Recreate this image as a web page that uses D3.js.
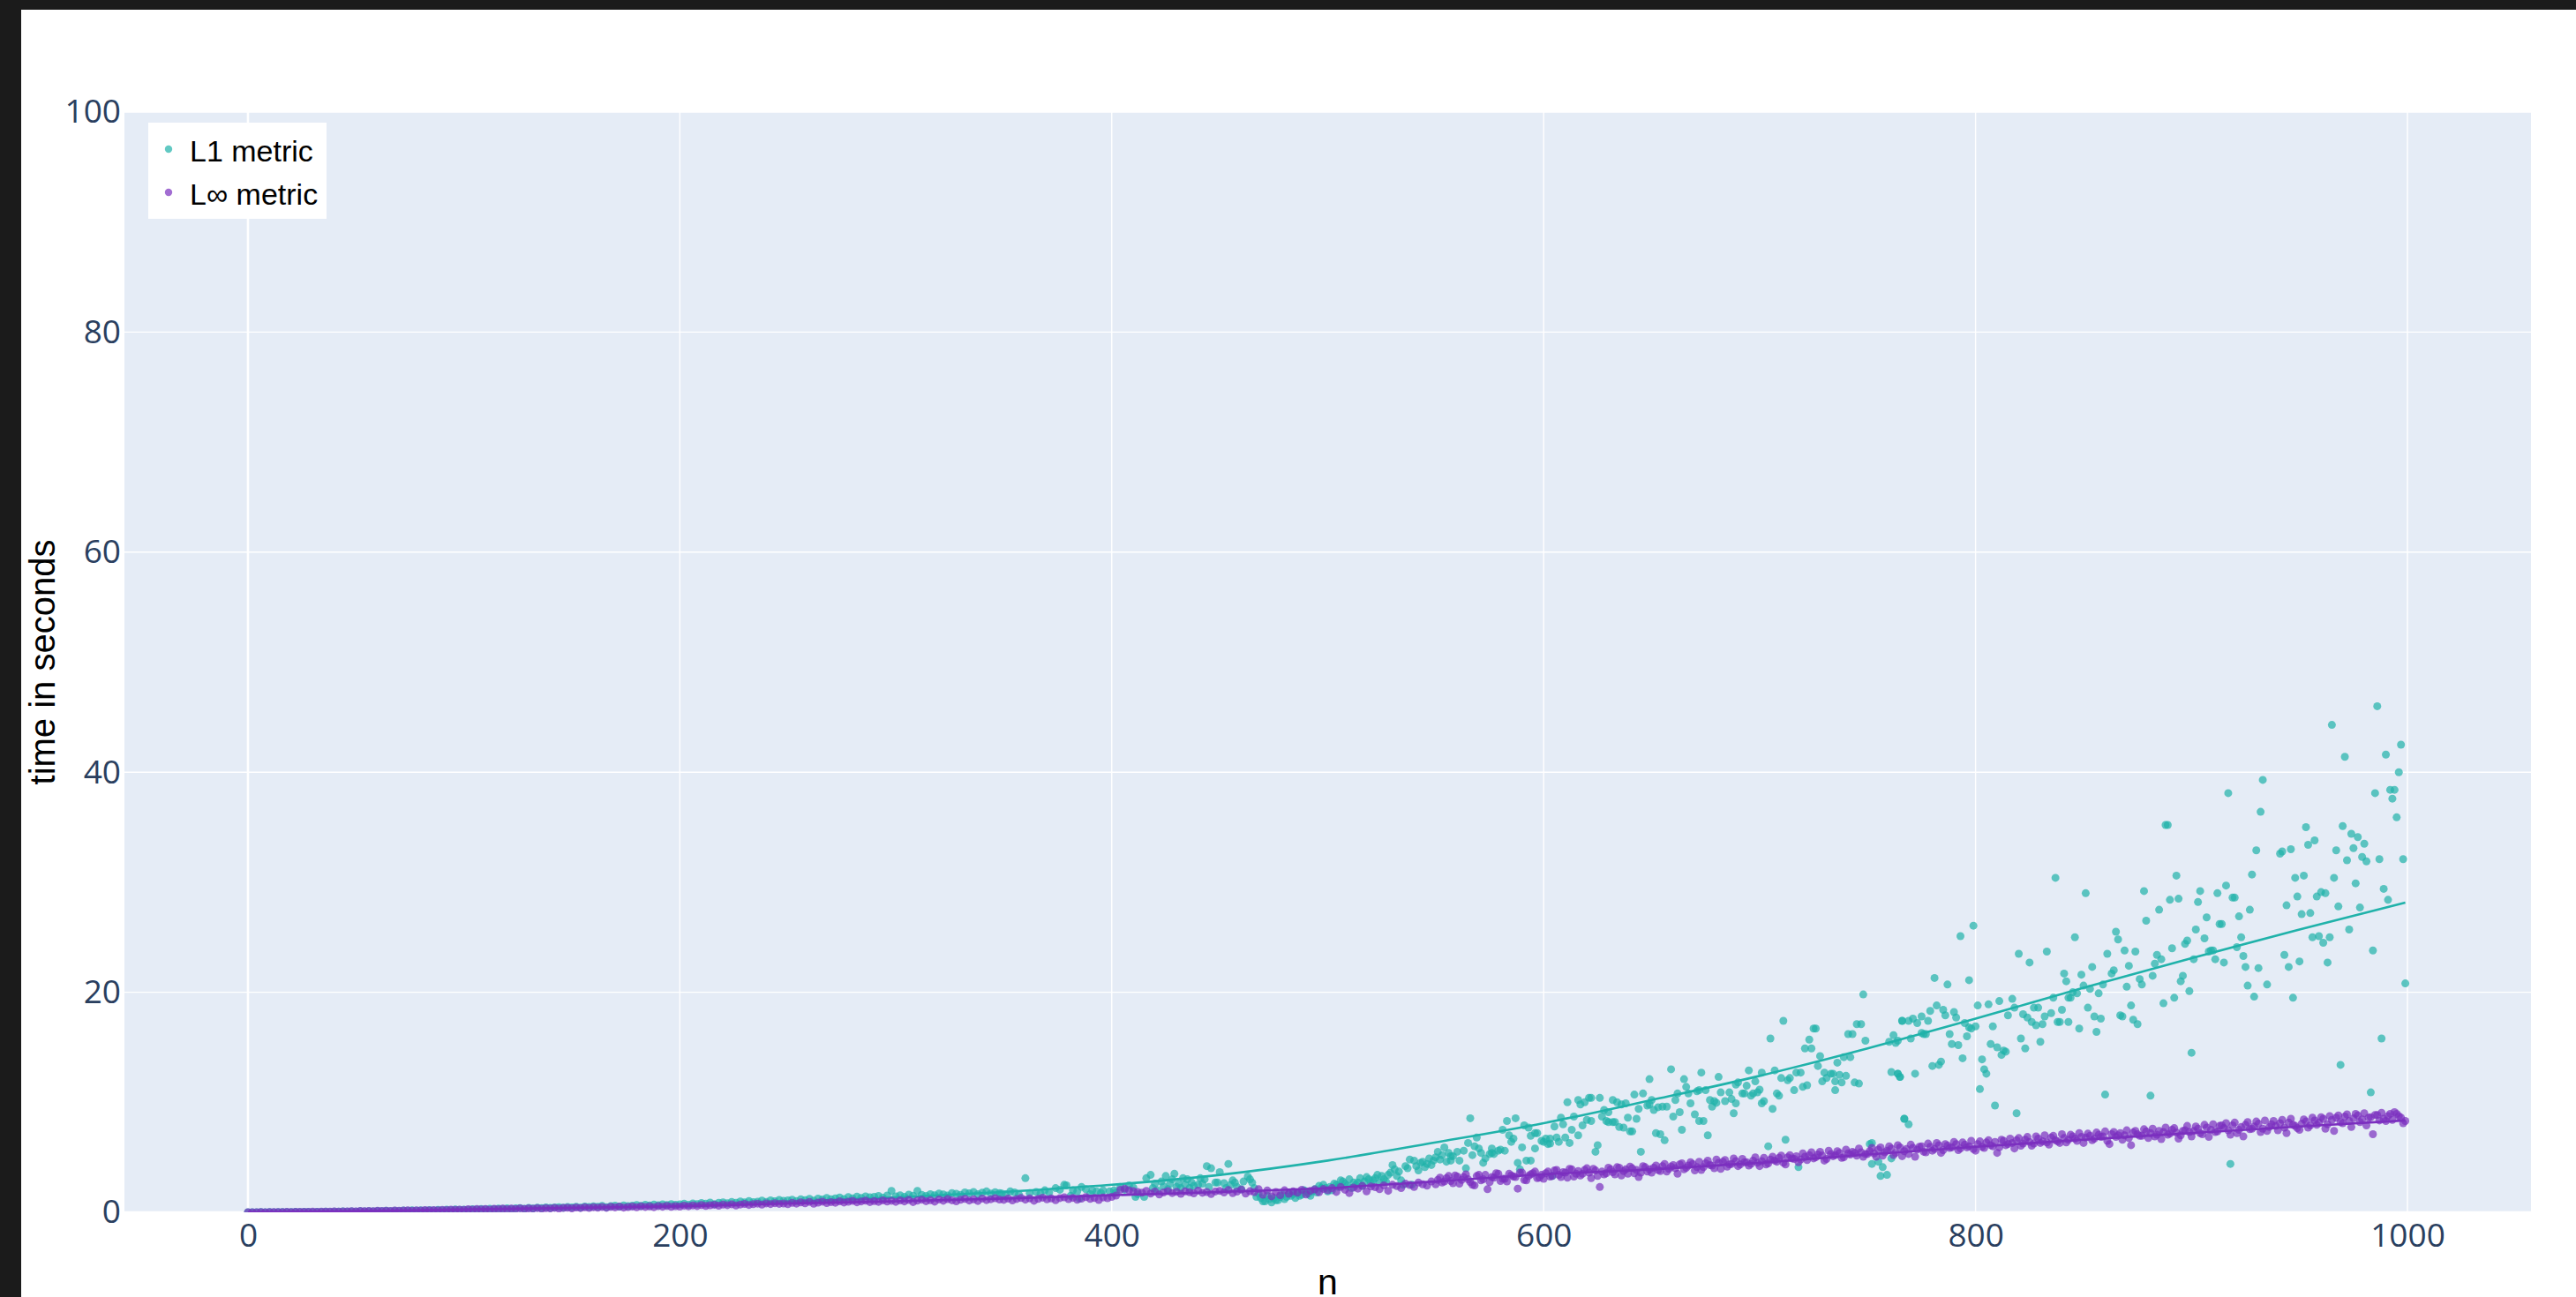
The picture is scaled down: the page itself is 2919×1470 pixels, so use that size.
<!DOCTYPE html>
<html><head><meta charset="utf-8">
<script src="https://cdn.jsdelivr.net/npm/d3@7"></script>
<style>html,body{margin:0;padding:0;background:#1b1b1b;overflow:hidden}</style>
</head><body><svg id="c" width="2919" height="1470"></svg>
<script>
const xTicks=[0,200,400,600,800,1000];
const yTicks=[0,20,40,60,80,100];
const seriesNames=["L1 metric","L\u221E metric"];
const xTitle="n", yTitle="time in seconds";

// L1 metric, n = 0,2,4,...,348
const l1LowT=[
0.00,0.01,0.00,0.02,0.01,0.02,0.01,0.03,0.02,0.03,0.02,0.04,0.03,0.04,0.05,0.03,0.05,0.04,0.06,0.05,0.07,0.06,0.08,0.06,0.09,
0.07,0.10,0.08,0.11,0.09,0.12,0.10,0.14,0.11,0.15,0.13,0.16,0.14,0.18,0.15,0.19,0.17,0.21,0.16,0.22,0.19,0.24,0.20,0.26,0.23,
0.25,0.22,0.28,0.24,0.30,0.27,0.33,0.29,0.35,0.31,0.37,0.30,0.36,0.39,0.33,0.41,0.35,0.43,0.38,0.45,0.40,0.44,0.47,0.42,0.49,
0.45,0.51,0.43,0.53,0.48,0.55,0.50,0.58,0.46,0.57,0.61,0.52,0.63,0.56,0.60,0.66,0.58,0.68,0.62,0.70,0.64,0.72,0.67,0.74,0.69,
0.72,0.78,0.68,0.81,0.75,0.84,0.79,0.88,0.74,0.86,0.91,0.82,0.95,0.87,0.99,0.90,1.02,0.93,0.97,1.06,0.94,1.09,1.01,1.12,1.05,
1.08,1.15,1.02,1.18,1.11,1.22,1.06,1.25,1.16,1.30,1.19,1.27,1.35,1.21,1.38,1.26,1.42,1.31,1.45,1.36,1.40,1.48,1.33,1.52,1.95,
1.45,1.55,1.40,1.60,1.50,1.95,1.58,1.48,1.65,1.55,1.70,1.62,1.52,1.75,1.68,1.58,1.80,1.72,1.85,1.65,1.78,1.90,1.70,1.82,1.75];

// L1 metric, n >= 349 : [n, seconds]
const l1Points=[
[360,3.1],[353,1.9],[351,1.65],[349,1.7],[374,2.2],[378,2.5],[379,2.45],[386,2.3],[382,2.0],[391,2.0],[393,1.9],[396,2.0],[399,1.9],[390,1.65],[385,1.25],[381,1.5],
[404,2.3],[408,2.45],[410,2.25],[406,2.05],[411,1.4],[415,1.4],[412,1.65],[416,3.1],[418,3.4],[420,2.6],[423,2.8],[425,3.3],[429,3.5],[428,3.0],[427,2.6],[433,3.1],
[435,3.0],[431,2.6],[437,2.7],[440,2.5],[442,2.6],[443,3.0],[441,3.1],[444,4.2],[446,4.0],[450,3.65],[454,4.4],[448,2.7],[449,2.7],[452,2.65],[456,2.9],[457,2.7],
[463,3.25],[464,3.0],[465,2.7],[467,1.4],[470,1.0],[471,1.0],[473,1.2],[476,1.1],[478,1.4],[481,1.4],[484,1.65],[487,1.5],[490,1.9],[493,1.9],[497,2.2],[498,2.5],
[500,1.9],[503,2.6],[506,2.9],[508,2.6],[510,3.0],[512,2.7],[514,2.7],[519,3.0],[523,3.4],[528,3.4],[530,4.3],[536,4.2],[538,4.8],[540,4.7],[543,4.5],[546,4.4],
[549,4.7],[551,5.5],[554,5.9],[557,5.1],[535,2.5],[539,2.5],
[355,1.8],[357,1.6],[362,1.75],[365,1.85],[367,1.7],[369,2.0],[371,1.8],[376,2.05],[384,1.9],[388,2.1],[395,1.75],[401,2.0],[402,1.8],[419,2.2],[421,2.0],[424,2.35],
[426,2.1],[430,2.3],[432,2.2],[434,2.5],[436,2.2],[438,2.4],[445,2.3],[453,2.2],[455,2.5],[458,2.3],[460,2.1],[461,2.8],[466,2.2],[468,1.7],[469,1.3],[472,1.5],
[474,0.9],[475,1.3],[477,1.1],[479,1.6],[480,1.2],[482,1.7],[483,1.5],[485,1.3],[486,1.8],[488,1.6],[489,2.0],[491,1.7],[492,1.5],[494,2.1],[495,1.8],[496,2.4],
[499,2.2],[501,2.3],[502,2.0],[504,2.5],[505,2.3],[507,2.8],[509,2.4],[511,2.2],[513,2.5],[515,3.1],[516,2.4],[517,2.8],[518,3.2],[520,2.6],[521,2.9],[522,3.1],
[524,2.7],[525,3.3],[526,3.0],[527,2.8],[529,3.6],[531,3.9],[532,3.3],[533,3.7],[534,2.9],[537,4.0],[541,4.2],[542,3.8],[544,4.6],[545,4.1],[547,4.9],[548,4.3],
[550,5.0],[552,4.8],[553,5.2],[555,4.6],[556,5.4],
[748,19.8],[711,17.4],[705,15.8],[745,17.1],[747,17.1],[725,16.7],[726,16.7],[723,15.7],[721,14.9],[724,14.9],[741,16.2],[743,16.2],[749,15.6],[762,16.1],[760,15.5],[763,15.4],
[766,17.4],[739,14.1],[742,14.1],[728,14.2],[736,13.6],[727,13.3],[730,12.7],[733,12.6],[734,12.6],[731,12.2],[729,11.9],[737,12.5],[740,12.4],[735,11.9],[738,11.8],[735,11.1],
[744,11.8],[746,11.7],[761,12.75],[764,12.6],[765,12.3],[767,8.5],[717,12.7],[719,12.7],[714,12.2],[713,12.0],[720,11.4],[722,11.55],[716,11.1],[710,12.2],[707,12.9],[701,12.7],
[695,12.9],[698,11.9],[700,11.15],[697,10.8],[696,10.6],[699,10.9],[702,10.1],[701,9.9],[706,9.4],[708,10.8],[709,10.6],[690,11.8],[689,11.6],[692,10.8],[694,11.5],[693,10.8],
[686,10.9],[682,10.9],[684,10.1],[687,10.3],[689,9.9],[688,9.0],[681,12.3],[675,11.1],[671,11.0],[672,11.1],[673,12.7],[677,10.2],[679,10.1],[678,9.6],[680,9.95],[676,7.0],
[670,8.9],[672,8.3],[674,8.3],[668,9.9],[667,10.8],[666,11.4],[665,12.1],[662,10.8],[661,10.2],[660,8.7],[663,9.1],[659,13.0],[664,7.5],[657,9.6],[655,9.6],[653,9.55],
[651,9.3],[652,7.2],[654,7.1],[656,6.55],[650,10.2],[648,9.7],[649,9.8],[649,12.1],[646,10.8],[642,10.7],[644,9.4],[643,8.5],[640,7.35],[641,7.35],[639,8.6],[637,7.7],
[635,7.75],[632,8.2],[633,8.2],[638,9.9],[636,9.8],[634,10.0],[632,10.2],[630,8.2],[629,8.3],[627,8.7],[628,9.3],[630,9.1],[626,10.4],[622,10.4],[621,10.4],[619,10.0],
[617,9.8],[616,10.2],[618,7.9],[622,8.3],[620,8.4],[616,7.0],[614,8.7],[613,7.5],[611,10.0],[612,6.3],[610,6.8],[609,8.0],[608,8.6],[607,6.4],[606,6.8],[605,7.8],
[624,5.5],[625,6.1],[603,6.25],[602,6.2],[603,6.7],[601,6.7],[599,6.5],[600,6.4],[597,7.2],[596,7.2],[594,6.95],[591,7.9],[593,7.7],[596,5.8],[590,5.9],[587,8.55],
[583,8.3],[584,7.0],[581,7.5],[585,6.4],[586,6.7],[582,5.6],[579,5.6],[580,5.7],[576,5.4],[577,5.3],[566,8.55],[569,6.8],[568,6.0],[567,5.2],[570,5.8],[571,5.4],
[565,6.3],[563,5.6],[561,4.7],[560,5.5],[558,5.1],[557,4.7],[573,4.9],[572,4.5],[575,5.3],[576,5.8],[564,4.0],[588,4.5],[589,3.9],[592,4.7],[594,4.7],[645,5.5],
[704,6.0],[712,6.6],[718,4.1],[751,6.2],[752,6.3],[752,4.4],[755,4.6],[757,4.1],[756,3.3],[759,3.4],[761,4.9],[604,3.3],
[986,46.0],[965,44.3],[971,41.4],[990,41.6],[997,42.5],[996,40.0],[933,39.3],[917,38.1],[932,36.4],[985,38.1],[992,38.4],[994,38.4],[993,37.6],[995,35.9],[998,32.1],[999,20.8],
[888,35.2],[889,35.2],[970,35.1],[953,35.0],[974,34.4],[977,34.1],[980,33.5],[954,33.4],[957,33.8],[967,32.9],[975,33.1],[979,32.3],[981,31.9],[972,32.0],[987,32.1],[930,32.9],
[941,32.6],[942,32.8],[946,33.0],[928,30.7],[893,30.6],[948,30.4],[952,30.6],[966,30.4],[976,29.9],[989,29.4],[991,28.4],[978,27.7],[968,27.8],[973,25.7],[958,28.7],[960,29.1],
[962,29.0],[949,28.7],[944,27.9],[951,27.1],[955,27.2],[956,25.0],[959,25.1],[961,24.5],[964,25.0],[984,23.8],[963,22.7],[950,22.8],[945,22.3],[943,23.4],[947,19.5],[935,20.7],
[931,22.2],[929,19.6],[926,20.6],[925,22.3],[924,23.3],[923,25.0],[927,27.5],[922,26.9],[919,28.6],[920,28.6],[916,29.7],[912,29.0],[913,26.2],[914,26.2],[907,26.8],[904,29.2],
[903,28.2],[902,25.7],[906,24.9],[909,23.8],[911,23.0],[908,23.7],[910,23.8],[915,22.7],[921,24.1],[901,23.0],[897,24.4],[898,24.7],[895,21.0],[896,21.5],[899,20.1],[892,19.5],
[887,19.0],[900,14.5],[890,28.4],[894,28.5],[885,27.5],[879,26.5],[878,29.2],[891,24.0],[884,23.4],[886,23.0],[883,22.6],[882,21.5],[876,21.2],[877,20.7],[874,23.7],[871,22.4],
[869,23.8],[866,24.8],[865,25.5],[870,20.5],[872,18.8],[873,17.5],[875,17.1],[867,17.9],[868,17.8],[881,10.6],[860,10.7],[861,23.5],[863,21.7],[864,22.0],[859,20.7],[857,19.9],
[854,22.3],[853,20.3],[852,18.6],[855,17.8],[858,17.6],[856,16.4],[849,21.6],[850,20.6],[851,29.0],[837,30.4],[846,25.0],[841,21.7],[842,21.0],[845,20.0],[847,19.9],[843,19.5],
[844,19.5],[848,16.7],[840,18.4],[836,19.5],[835,18.1],[838,17.3],[839,17.3],[843,17.3],[833,23.7],[832,17.8],[831,17.1],[830,15.5],[829,18.6],[827,18.6],[825,22.7],[820,23.5],
[826,17.3],[828,17.0],[822,18.0],[824,17.7],[821,15.8],[823,14.9],[817,19.4],[818,18.6],[815,17.9],[811,19.2],[810,15.0],[813,14.7],[814,14.6],[812,14.3],[808,16.9],[807,15.3],
[806,18.9],[809,9.7],[819,9.0],[801,18.8],[799,26.05],[793,25.1],[797,21.1],[800,16.9],[803,13.9],[804,13.0],[805,12.6],[802,11.2],[795,17.2],[797,16.8],[798,16.7],[796,16.0],
[794,14.0],[792,15.2],[789,15.3],[788,16.2],[790,18.2],[791,17.7],[787,20.7],[785,18.4],[786,17.9],[781,21.3],[782,18.8],[779,18.3],[778,17.4],[775,17.8],[773,17.2],[771,17.6],
[769,17.4],[766,17.4],[776,16.2],[775,16.3],[777,16.2],[770,15.8],[764,15.6],[780,13.3],[783,13.4],[784,13.7],[772,12.6],[764,12.6],[765,12.3],[767,8.5],[769,8.0],[918,4.4],
[969,13.4],[988,15.8],[983,10.9]];

// L-infinity metric, n = 0,2,4,...,998
const linfT=[
0.00,0.01,0.01,0.02,0.01,0.02,0.03,0.02,0.03,0.04,0.03,0.04,0.05,0.04,0.05,0.06,0.05,0.07,0.06,0.07,0.08,0.07,0.09,0.08,0.10,
0.09,0.12,0.10,0.13,0.11,0.14,0.12,0.15,0.13,0.17,0.14,0.16,0.18,0.15,0.19,0.17,0.20,0.18,0.21,0.19,0.23,0.20,0.24,0.22,0.25,
0.22,0.28,0.24,0.30,0.26,0.31,0.25,0.33,0.29,0.34,0.28,0.35,0.31,0.37,0.30,0.36,0.33,0.39,0.32,0.38,0.35,0.41,0.34,0.40,0.42,
0.36,0.44,0.39,0.46,0.40,0.47,0.42,0.49,0.41,0.50,0.45,0.52,0.43,0.48,0.53,0.46,0.55,0.49,0.54,0.47,0.57,0.51,0.58,0.50,0.56,
0.52,0.61,0.55,0.63,0.57,0.66,0.58,0.64,0.69,0.60,0.70,0.65,0.73,0.62,0.71,0.76,0.67,0.74,0.79,0.70,0.81,0.75,0.83,0.77,0.80,
0.74,0.86,0.79,0.90,0.82,0.95,0.78,0.88,0.97,0.84,0.93,0.87,1.00,0.89,0.96,1.04,0.91,0.99,1.06,0.93,1.02,0.95,1.08,0.98,1.05,
0.95,1.08,0.99,1.12,0.93,1.06,1.15,1.01,1.10,0.97,1.17,1.05,1.20,1.09,1.00,1.14,1.22,1.07,1.18,1.03,1.25,1.11,1.19,1.28,1.16,
1.13,1.25,1.08,1.21,1.30,1.15,1.27,1.05,1.22,1.33,1.18,1.26,1.10,1.29,1.36,1.20,1.31,1.14,1.24,1.38,1.22,1.30,1.12,1.35,1.28,
1.40,1.52,2.05,2.15,2.00,1.92,1.85,1.78,1.95,1.70,1.88,1.62,1.80,1.93,1.75,1.86,1.68,1.90,1.82,1.72,1.97,1.77,1.84,1.66,1.89,
1.95,1.80,2.02,1.74,1.88,2.06,1.70,1.92,1.83,2.10,1.60,1.98,1.45,1.85,1.55,2.00,1.68,1.90,1.78,2.05,1.62,1.95,2.08,1.82,2.12,
2.00,2.20,1.85,2.30,2.05,1.75,2.25,2.15,2.40,1.90,2.35,2.28,2.10,2.45,1.95,2.50,2.38,2.20,2.60,2.48,2.30,2.70,2.55,2.42,2.80,
2.55,3.15,2.80,3.30,2.65,3.25,2.95,3.45,2.75,2.45,3.40,3.00,2.10,3.20,3.55,2.85,3.05,3.50,3.25,2.15,3.60,2.90,3.45,3.70,3.15,
3.05,3.70,3.30,3.85,3.20,3.60,3.95,3.25,3.75,3.50,4.00,3.10,3.80,2.30,3.45,4.05,3.65,4.10,3.35,3.90,4.15,3.55,3.20,4.20,3.70,
3.60,4.25,3.75,4.40,3.95,4.30,3.50,4.45,4.05,4.55,3.80,4.60,4.10,4.70,4.25,4.80,3.95,4.75,4.35,4.90,4.20,4.85,4.55,4.40,5.00,
4.20,4.95,4.45,5.05,4.60,5.15,4.35,5.20,4.85,4.55,5.35,4.75,5.45,5.00,5.50,4.70,5.60,5.10,5.55,4.95,5.70,5.25,5.40,5.80,5.05,
5.30,5.85,5.05,5.90,5.45,6.00,5.20,6.10,5.10,5.75,6.15,5.05,5.95,5.50,6.25,5.60,6.30,5.40,6.20,5.85,6.40,5.65,6.35,5.90,6.50,
5.60,6.45,5.85,6.55,6.00,5.40,6.60,6.10,6.70,5.80,6.75,6.25,6.85,6.05,6.90,6.30,7.00,6.15,6.95,6.45,7.10,6.35,7.05,6.70,7.20,
6.30,7.15,6.55,7.25,6.85,7.35,6.20,7.30,7.00,6.60,7.45,6.10,7.40,6.95,7.55,6.75,7.60,7.05,6.65,7.70,7.15,7.65,6.70,7.40,7.85,
6.90,7.80,7.20,7.95,6.85,8.00,7.35,7.90,8.10,7.05,8.15,7.50,6.90,8.20,7.60,8.25,7.30,8.35,7.75,8.30,7.45,8.40,7.20,8.50,7.85,
7.50,8.45,7.70,8.60,7.95,8.65,7.60,8.75,7.40,8.80,8.10,8.90,7.75,8.95,8.20,9.00,8.60,7.10,8.85,9.05,8.30,8.95,9.10,8.75,8.10];

// L-infinity metric, n = 551,553,...,999
const linfOddT=[
2.95,2.70,3.10,2.85,3.35,2.60,3.20,3.00,2.50,3.30,2.90,3.40,2.75,3.15,3.50,3.05,2.80,3.35,3.20,3.60,2.95,3.30,3.55,3.10,3.40,
3.55,3.25,3.80,3.40,3.65,3.15,3.90,3.50,3.35,3.85,3.60,3.95,3.30,3.70,3.55,3.90,3.45,4.05,3.75,3.50,4.00,3.85,3.60,4.10,3.90,
4.05,3.85,4.20,3.70,4.15,4.00,4.35,3.90,4.25,4.40,4.10,3.85,4.45,4.30,4.00,4.50,4.60,4.15,4.40,4.65,4.35,4.55,4.25,4.70,4.50,
4.65,4.35,4.80,4.70,4.95,4.50,5.00,4.90,5.10,4.80,5.05,5.20,4.90,5.25,5.15,4.85,5.30,5.20,5.40,5.00,5.35,5.50,5.15,5.45,5.30,
5.55,5.35,5.70,5.15,5.60,5.80,5.40,5.90,5.55,5.30,5.85,5.70,6.00,5.45,5.95,5.75,6.10,5.65,6.05,5.90,6.20,5.80,6.15,6.00,5.75,
6.20,5.95,6.35,6.10,6.40,5.90,6.50,6.20,6.30,6.55,6.05,6.60,6.40,6.25,6.70,6.45,6.35,6.80,6.55,6.30,6.75,6.60,6.90,6.50,6.85,
6.80,6.95,6.70,7.05,6.90,6.50,7.10,6.85,7.20,7.00,6.75,7.25,7.10,6.95,7.35,7.20,6.90,7.40,7.30,7.05,7.50,7.25,7.00,7.45,7.30,
7.40,7.60,7.10,7.70,7.50,7.30,7.85,7.65,7.45,7.90,7.20,7.75,7.95,7.55,7.80,8.05,7.60,7.40,8.00,7.85,8.10,7.70,8.15,7.95,7.65,
8.05,8.25,7.90,8.35,8.15,8.50,8.00,8.40,8.60,8.20,8.70,8.30,8.55,8.80,8.45,7.90,8.65,8.85,8.35,8.50,8.75,8.40,8.95,8.60,8.30];

// trend lines
const trendN=[0,50,100,150,200,250,300,350,400,450,500,550,600,650,700,750,800,850,900,950,999];
const l1Trend=[0,0.08,0.2,0.38,0.62,0.95,1.35,1.85,2.5,3.4,4.7,6.35,8.1,10.2,12.4,14.9,17.6,20.4,23.1,25.7,28.15];
const linfTrend=[0,0.1,0.25,0.4,0.55,0.8,1.0,1.25,1.55,1.85,2.2,2.8,3.45,3.9,4.5,5.25,5.95,6.6,7.2,7.8,8.35];

const colors=["#20b2aa","#7b2fbf"];

const svg=d3.select("#c");
const W=2919,H=1470;
const plot={l:141,r:2868,t:127,b:1374};
svg.append("rect").attr("x",0).attr("y",0).attr("width",W).attr("height",H).attr("fill","#1b1b1b");
svg.append("rect").attr("x",24).attr("y",11).attr("width",W-24).attr("height",H-11).attr("fill","#ffffff");

const x=d3.scaleLinear().domain([-57.2,1057.2]).range([plot.l,plot.r]);
const y=d3.scaleLinear().domain([0,100]).range([plot.b,plot.t]);

svg.append("rect").attr("x",plot.l).attr("y",plot.t).attr("width",plot.r-plot.l).attr("height",plot.b-plot.t).attr("fill","#e5ecf6");

// grid
const grid=svg.append("g");
grid.selectAll("line.gx").data(xTicks).enter().append("line")
  .attr("x1",d=>x(d)).attr("x2",d=>x(d)).attr("y1",plot.t).attr("y2",plot.b)
  .attr("stroke","#fff").attr("stroke-width",d=>d===0?2.6:1.4);
grid.selectAll("line.gy").data(yTicks).enter().append("line")
  .attr("x1",plot.l).attr("x2",plot.r).attr("y1",d=>y(d)).attr("y2",d=>y(d))
  .attr("stroke","#fff").attr("stroke-width",d=>d===0?2.6:1.4);

// axes (labels only, via d3 axis)
const tickFont='"Open Sans", "Noto Sans", sans-serif';
const xa=svg.append("g").attr("transform",`translate(0,${plot.b})`)
  .call(d3.axisBottom(x).tickValues(xTicks).tickSize(0).tickPadding(13).tickFormat(d3.format("d")));
const ya=svg.append("g").attr("transform",`translate(${plot.l},0)`)
  .call(d3.axisLeft(y).tickValues(yTicks).tickSize(0).tickPadding(4).tickFormat(d3.format("d")));
[xa,ya].forEach(a=>{a.select(".domain").remove();
  a.selectAll("text").attr("font-family",tickFont).attr("font-size",37).attr("fill","#2a3f5f");});

// data layers
svg.append("clipPath").attr("id","pc").append("rect")
  .attr("x",plot.l).attr("y",plot.t).attr("width",plot.r-plot.l).attr("height",plot.b-plot.t);
const layer=svg.append("g").attr("clip-path","url(#pc)");
const R=4.5;
const l1All=l1LowT.map((v,i)=>[i*2,v]).concat(l1Points);
const linfAll=linfT.map((v,i)=>[i*2,v]).concat(linfOddT.map((v,i)=>[551+i*2,v]));
const line=d3.line().x(d=>x(d[0])).y(d=>y(d[1])).curve(d3.curveMonotoneX);

layer.append("g").selectAll("circle").data(l1All).enter().append("circle")
  .attr("cx",d=>x(d[0])).attr("cy",d=>y(d[1])).attr("r",R)
  .attr("fill",colors[0]).attr("fill-opacity",0.7);
layer.append("path").datum(trendN.map((n,i)=>[n,l1Trend[i]])).attr("d",line)
  .attr("fill","none").attr("stroke",colors[0]).attr("stroke-width",2.6);
layer.append("g").selectAll("circle").data(linfAll).enter().append("circle")
  .attr("cx",d=>x(d[0])).attr("cy",d=>y(d[1])).attr("r",R)
  .attr("fill",colors[1]).attr("fill-opacity",0.7);
layer.append("path").datum(trendN.map((n,i)=>[n,linfTrend[i]])).attr("d",line)
  .attr("fill","none").attr("stroke",colors[1]).attr("stroke-width",2.6);

// legend
const titleFont='"Liberation Sans", Arial, sans-serif';
const lg=svg.append("g");
lg.append("rect").attr("x",168).attr("y",139).attr("width",202).attr("height",109).attr("fill","#fff");
seriesNames.forEach((s,i)=>{
  lg.append("circle").attr("cx",191).attr("cy",169+i*49).attr("r",4.2).attr("fill",colors[i]).attr("fill-opacity",0.7);
  lg.append("text").attr("x",215).attr("y",183+i*49).text(s)
    .attr("font-family",titleFont).attr("font-size",34).attr("fill","#000");
});

// axis titles
svg.append("text").attr("x",(plot.l+plot.r)/2).attr("y",1467).attr("text-anchor","middle")
  .attr("font-family",titleFont).attr("font-size",41).attr("fill","#000").text(xTitle);
svg.append("text").attr("transform",`translate(62,${(plot.t+plot.b)/2}) rotate(-90)`).attr("text-anchor","middle")
  .attr("font-family",titleFont).attr("font-size",40).attr("fill","#000").text(yTitle);
</script></body></html>
